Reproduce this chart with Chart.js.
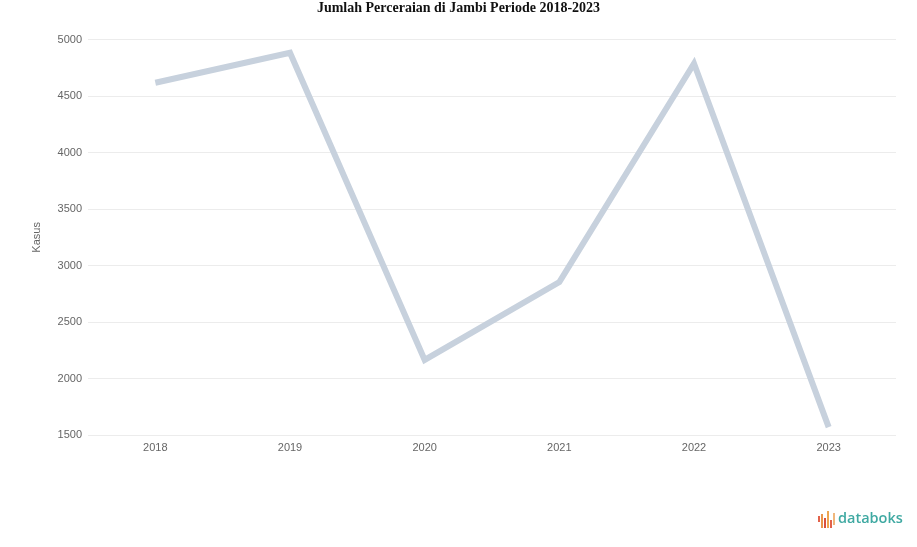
<!DOCTYPE html>
<html>
<head>
<meta charset="utf-8">
<script src="https://cdn.jsdelivr.net/npm/chart.js@4"></script>
<style>
  body { margin: 0; background: #fff; }
  #wrap { position: relative; width: 917px; height: 547px; }
  #logo { position: absolute; left: 818px; top: 508px; display: flex; align-items: flex-end; }
  #logo .bars { display: flex; align-items: flex-end; gap: 1px; margin-right: 3px; height: 18px; }
  #logo .bars span { width: 2px; display: block; }
  #logo .txt { font-family: "Open Sans", sans-serif; font-size: 14.5px; font-weight: 600; color: #3fa9a2; line-height: 20px; }
</style>
</head>
<body>
<div id="wrap">
  <canvas id="chart" width="917" height="547"></canvas>
  <div id="logo">
    <div class="bars">
      <span style="height:6px;background:#e2624b;margin-bottom:6px"></span>
      <span style="height:14px;background:#e9954b"></span>
      <span style="height:10px;background:#d9503e"></span>
      <span style="height:17px;background:#eea54f"></span>
      <span style="height:8px;background:#e2624b"></span>
      <span style="height:12px;background:#f0b77c;margin-bottom:3px"></span>
    </div>
    <div class="txt">databoks</div>
  </div>
</div>
<script>
const years = ["2018", "2019", "2020", "2021", "2022", "2023"];
const kasus = [4620, 4885, 2165, 2855, 4790, 1570];
const yMin = 1500;
const yMax = 5000;
const yStep = 500;

const ctx = document.getElementById("chart").getContext("2d");
new Chart(ctx, {
  type: "line",
  data: {
    labels: years,
    datasets: [
      {
        label: "Kasus",
        data: kasus,
        borderColor: "#c7d1dd",
        borderWidth: 6,
        pointRadius: 0,
        tension: 0,
        fill: false,
      },
    ],
  },
  options: {
    responsive: false,
    animation: false,
    layout: { padding: 0 },
    plugins: {
      legend: { display: false },
      tooltip: { enabled: false },
      title: {
        display: true,
        text: "Jumlah Perceraian di Jambi Periode 2018-2023",
        color: "#111",
        font: { family: "Liberation Serif", size: 14, weight: "bold" },
        padding: { top: 0, bottom: 23 },
      },
    },
    scales: {
      x: {
        offset: true,
        grid: { display: false, drawTicks: false },
        border: { display: false },
        ticks: { color: "#666", font: { family: "Liberation Sans", size: 11 }, padding: 6 },
        afterFit: function (scale) { scale.height = 112; },
      },
      y: {
        min: yMin,
        max: yMax,
        ticks: {
          stepSize: yStep,
          color: "#666",
          font: { family: "Liberation Sans", size: 11 },
          padding: 6,
          callback: function (v) { return String(v); },
        },
        grid: { color: "#ececec", drawTicks: false },
        border: { display: false },
        title: {
          display: true,
          text: "Kasus",
          color: "#666",
          font: { family: "Liberation Sans", size: 11 },
          padding: { top: 30, bottom: 0 },
        },
        afterFit: function (scale) { scale.width = 88; },
      },
      // empty right axis, only keeps a margin on the right side
      yRight: {
        position: "right",
        min: yMin,
        max: yMax,
        ticks: { display: false },
        grid: { display: false, drawTicks: false },
        border: { display: false },
        afterFit: function (scale) { scale.width = 21; },
      },
    },
  },
});
</script>
</body>
</html>
